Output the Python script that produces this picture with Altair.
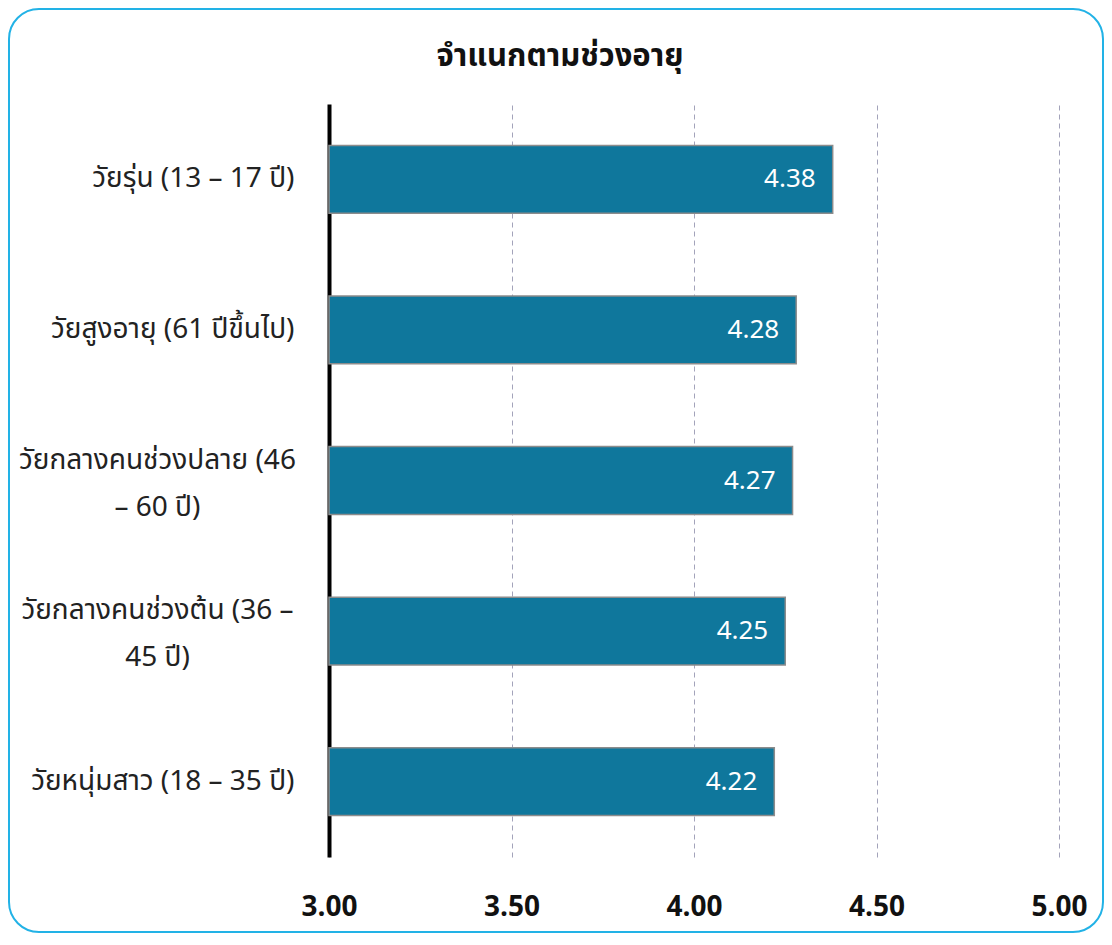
import altair as alt
import pandas as pd

# ---- data ----
categories = [
    "วัยรุ่น (13 – 17 ปี)",
    "วัยสูงอายุ (61 ปีขึ้นไป)",
    "วัยกลางคนช่วงปลาย (46 – 60 ปี)",
    "วัยกลางคนช่วงต้น (36 – 45 ปี)",
    "วัยหนุ่มสาว (18 – 35 ปี)",
]
values = [4.38, 4.28, 4.27, 4.25, 4.22]
label_lines = [
    ["วัยรุ่น (13 – 17 ปี)"],
    ["วัยสูงอายุ (61 ปีขึ้นไป)"],
    ["วัยกลางคนช่วงปลาย (46", "– 60 ปี)"],
    ["วัยกลางคนช่วงต้น (36 –", "45 ปี)"],
    ["วัยหนุ่มสาว (18 – 35 ปี)"],
]
x_ticks = [3.0, 3.5, 4.0, 4.5, 5.0]
axis_start = 3.0
title_text = "จำแนกตามช่วงอายุ"

df = pd.DataFrame({"cat": categories, "val": values})

FONT = "Noto Sans Thai, Tahoma, Noto Sans, sans-serif"
W, H = 730, 753
PAD = {"left": 321, "top": 96, "right": 45, "bottom": 76}


def js(s):
    return "'" + s.replace("'", "\\'") + "'"


multi = [c for c, l in zip(categories, label_lines) if len(l) > 1]
expr = "datum.value"
for cat, lines in zip(categories, label_lines):
    if len(lines) > 1:
        arr = "[" + ",".join(js(l) for l in lines) + "]"
        expr = f"datum.value == {js(cat)} ? {arr} : ({expr})"
is_multi = "indexof([" + ",".join(js(c) for c in multi) + "], datum.value) >= 0"

y_enc = alt.Y(
    "cat:N",
    sort=categories,
    title=None,
    scale=alt.Scale(paddingInner=0.55, paddingOuter=0.275),
    axis=alt.Axis(
        labelExpr=expr,
        labelFont=FONT,
        labelFontSize=28,
        labelColor="#222222",
        labelAlign={"condition": {"test": is_multi, "value": "center"}, "value": "right"},
        labelPadding={"condition": {"test": is_multi, "value": 172}, "value": 35},
        labelOffset={"condition": {"test": is_multi, "value": -20}, "value": 0},
        labelLineHeight=47,
        labelLimit=400,
        ticks=False,
        domainColor="#000000",
        domainWidth=4,
        grid=False,
    ),
)
x_enc = alt.X(
    "val:Q",
    title=None,
    scale=alt.Scale(domain=[3.0, 5.0], nice=False, zero=False),
    axis=alt.Axis(
        values=x_ticks,
        format=".2f",
        labelFont=FONT,
        labelFontSize=28,
        labelFontWeight="bold",
        labelColor="#111111",
        labelPadding=36,
        labelFlush=False,
        ticks=False,
        domain=False,
        grid=True,
        gridColor="#A3A3BA",
        gridDash=[5, 4],
        gridWidth=1,
    ),
)

border = alt.Chart(pd.DataFrame({"k": [0]})).mark_rect(
    fill=None, stroke="#22B2E6", strokeWidth=2, cornerRadius=30, clip=False
).encode(
    x=alt.value(-PAD["left"] + 1),
    x2=alt.value(W + PAD["right"] - 1),
    y=alt.value(-PAD["top"] + 1),
    y2=alt.value(H + PAD["bottom"] - 1),
)

title = alt.Chart(pd.DataFrame({"t": [title_text]})).mark_text(
    font=FONT, fontSize=31, fontWeight="bold", color="#111111",
    align="center", baseline="middle", clip=False
).encode(
    text="t:N",
    x=alt.value(231),
    y=alt.value(-47),
)

bars = alt.Chart(df).mark_bar(
    color="#0F779C", stroke="#8C8C8C", strokeWidth=1.5
).encode(x=x_enc, x2=alt.datum(axis_start), y=y_enc)

labels = alt.Chart(df).mark_text(
    align="right", baseline="middle", dx=-17, color="white",
    font=FONT, fontSize=26
).encode(
    x=alt.X("val:Q"),
    y=alt.Y("cat:N", sort=categories),
    text=alt.Text("val:Q", format=".2f"),
)

chart = alt.layer(border, title, bars, labels).properties(
    width=W,
    height=H,
    padding=PAD,
    autosize=alt.AutoSizeParams(type="none"),
).configure_view(stroke=None)

chart.save("out.html", embed_options={"renderer": "svg", "actions": False})
